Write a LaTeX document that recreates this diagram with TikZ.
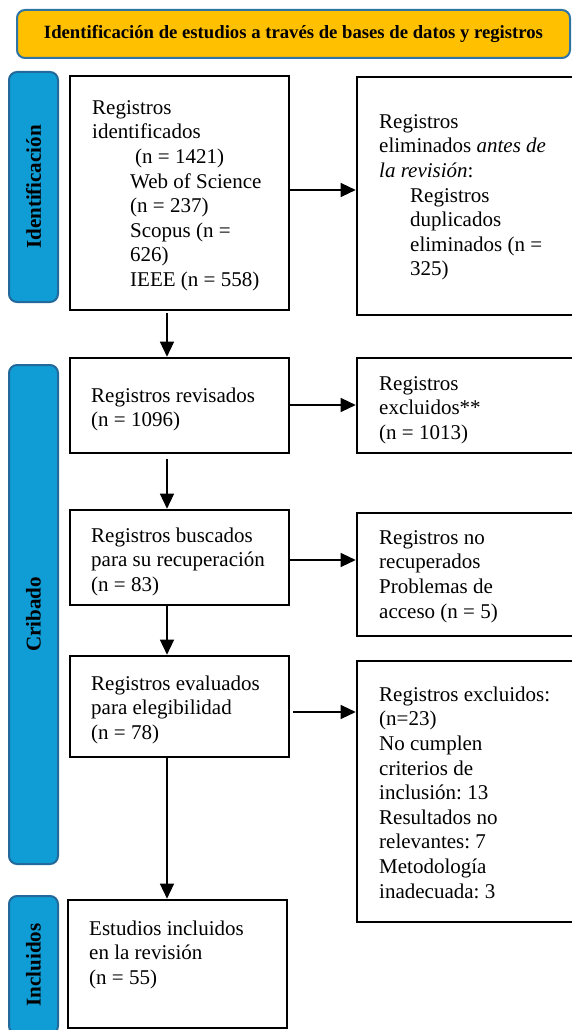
\documentclass[tikz,border=0pt]{standalone}
\usepackage{fontspec}
\setmainfont{Liberation Serif}
\usetikzlibrary{arrows.meta,calc}
\definecolor{bannerfill}{HTML}{FFC000}
\definecolor{bannerline}{RGB}{46,117,165}
\definecolor{labfill}{RGB}{16,156,212}
\definecolor{labline}{RGB}{35,105,155}
\newcommand\bodyfont{\fontsize{21}{24.6}\selectfont\frenchspacing}
\newcommand\mybox[5]{\node[box, minimum width={#4-#2}, minimum height={#5-#3}] (#1) at ({(#2+#4)/2},{(#3+#5)/2}) {};}
\begin{document}
\frenchspacing
\begin{tikzpicture}[x=1pt,y=-1pt,
  box/.style={draw, line width=2.6pt, inner sep=0pt, rectangle},
  txt/.style={anchor=north west, inner sep=0pt, align=left, font=\bodyfont},
  arr/.style={-{Triangle[length=15pt,width=14pt]}, line width=1.3pt},
  lab/.style={draw=labline, fill=labfill, line width=2pt, rounded corners=8pt,
    font=\fontsize{21}{24}\selectfont\bfseries, inner sep=0pt, rotate=90},
  banner/.style={draw=bannerline, fill=bannerfill, line width=2pt, rounded corners=8pt,
    font=\fontsize{18.7}{22}\selectfont\bfseries, inner sep=0pt}]
\useasboundingbox (0,0) rectangle (571,1030);

% banner
\node[banner, minimum width=553pt, minimum height=48pt] (ban) at (293.5,34)
  {Identificación de estudios a través de bases de datos y registros};

% side labels
\node[lab, minimum width=230pt, minimum height=49pt] (l1) at (33.5,187) {Identificación};
\node[lab, minimum width=499pt, minimum height=49pt] (l2) at (33.5,614.5) {Cribado};
\node[lab, minimum width=138pt, minimum height=49pt] (l3) at (33.5,965) {Incluidos};

% boxes
\mybox{b1}{70}{76}{289}{310}
\mybox{e1}{357}{77}{585}{315}
\mybox{b2}{70}{358}{289}{453}
\mybox{e2}{357}{358}{585}{453}
\mybox{b3}{70}{510}{289}{605}
\mybox{e3}{357}{513}{585}{636}
\mybox{b4}{70}{656}{289}{757}
\mybox{e4}{357}{661}{585}{922}
\mybox{b5}{68}{900}{287}{1028}

% texts
\node[txt] (t1) at (92,114-17.22) {\strut Registros\\identificados\\\hspace*{43pt}(n = 1421)\\\hspace*{38pt}Web of Science\\\hspace*{38pt}(n = 237)\\\hspace*{38pt}Scopus (n =\\\hspace*{38pt}626)\\\hspace*{38pt}IEEE (n = 558)};
\node[txt] (s1) at (379,128-17.22) {\strut Registros\\eliminados \textit{antes de}\\\textit{la revisión}:\\\hspace*{31pt}Registros\\\hspace*{31pt}duplicados\\\hspace*{31pt}eliminados (n =\\\hspace*{31pt}325)};
\node[txt] (t2) at (91,402-17.22) {\strut Registros revisados\\(n = 1096)};
\node[txt] (s2) at (379,390-17.22) {\strut Registros\\excluidos**\\(n = 1013)};
\node[txt] (t3) at (91,542-17.22) {\strut Registros buscados\\para su recuperación\\(n = 83)};
\node[txt] (s3) at (379,544-17.22) {\strut Registros no\\recuperados\\Problemas de\\acceso (n = 5)};
\node[txt] (t4) at (91,690-17.22) {\strut Registros evaluados\\para elegibilidad\\(n = 78)};
\node[txt] (s4) at (379,701-17.22) {\strut Registros excluidos:\\(n=23)\\No cumplen\\criterios de\\inclusión: 13\\Resultados no\\relevantes: 7\\Metodología\\inadecuada: 3};
\node[txt] (t5) at (89,935-17.22) {\strut Estudios incluidos\\en la revisión\\(n = 55)};

% connector guides
\coordinate (vc) at (167,0);
\coordinate (h1) at (0,190);
\coordinate (h2) at (0,405);
\coordinate (h3) at (0,560);
\coordinate (h4) at (0,712);

% vertical arrows
\draw[arr] ([yshift=-2pt]b1.south -| vc) -- (b2.north -| vc);
\draw[arr] ([yshift=-5pt]b2.south -| vc) -- (b3.north -| vc);
\draw[arr] (b3.south -| vc) -- (b4.north -| vc);
\draw[arr] (b4.south -| vc) -- (b5.north -| vc);

% horizontal arrows
\draw[arr] (b1.east |- h1) -- (e1.west |- h1);
\draw[arr] (b2.east |- h2) -- (e2.west |- h2);
\draw[arr] (b3.east |- h3) -- (e3.west |- h3);
\draw[arr] ([xshift=3pt]b4.east |- h4) -- (e4.west |- h4);
\end{tikzpicture}
\end{document}
